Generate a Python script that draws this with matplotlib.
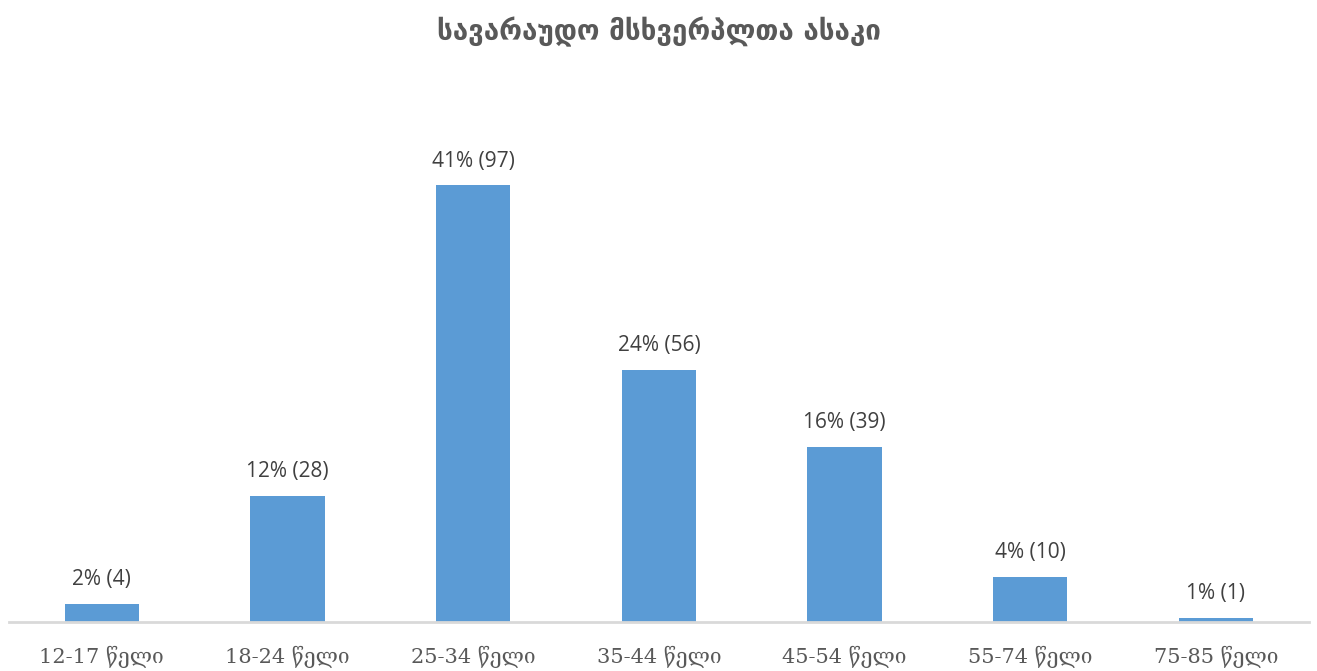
import numpy as np
import matplotlib.pyplot as plt

categories = ['12-17 წელი', '18-24 წელი', '25-34 წელი', '35-44 წელი',
              '45-54 წელი', '55-74 წელი', '75-85 წელი']
counts = [4, 28, 97, 56, 39, 10, 1]
percents = [2, 12, 41, 24, 16, 4, 1]
title = 'სავარაუდო მსხვერპლთა ასაკი'

fig = plt.figure(figsize=(13.17, 6.71), dpi=100)
ax = fig.add_axes([0.0068, 0.073, 0.987, 0.778])

x = np.arange(len(categories))
bars = ax.bar(x, counts, width=0.4, color='#5b9bd5')

for b, c, p in zip(bars, counts, percents):
    ax.annotate(f'{p}% ({c})', (b.get_x() + b.get_width() / 2, b.get_height()),
                xytext=(0, 10), textcoords='offset points', ha='center', va='bottom',
                fontsize=15, color='#404040', family=['Open Sans', 'DejaVu Sans'])

ax.set_xlim(-0.5, 6.5)
ax.set_ylim(0, 116)
ax.set_xticks(x)
ax.set_xticklabels(categories, fontsize=15, color='#595959', family=['DejaVu Serif'])
ax.tick_params(axis='x', length=0, pad=17)
ax.set_yticks([])
for s in ['top', 'right', 'left']:
    ax.spines[s].set_visible(False)
ax.spines['bottom'].set_color('#d9d9d9')
ax.spines['bottom'].set_linewidth(2)

fig.text(0.5, 0.952, title, ha='center', va='center', fontsize=20,
         fontweight='bold', color='#595959', family=['DejaVu Sans'])

fig.savefig('out.png', dpi=100)
